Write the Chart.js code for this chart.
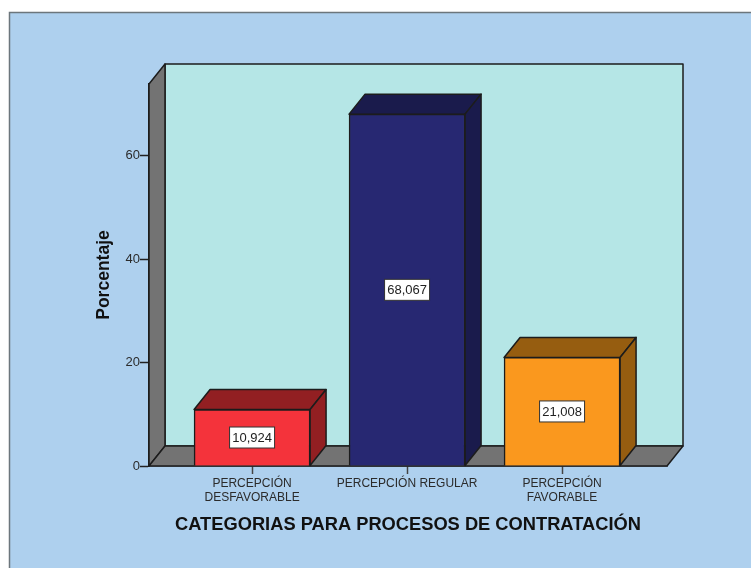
<!DOCTYPE html>
<html>
<head>
<meta charset="utf-8">
<script src="https://cdn.jsdelivr.net/npm/chart.js@4"></script>
<style>
  html, body { margin: 0; padding: 0; background: #fff; overflow: hidden; }
  canvas { display: block; }
</style>
</head>
<body>
<canvas id="grafico" width="751" height="568"></canvas>
<script>
const categorias = [["PERCEPCIÓN", "DESFAVORABLE"], "PERCEPCIÓN REGULAR", ["PERCEPCIÓN", "FAVORABLE"]];
const porcentajes = [10.924, 68.067, 21.008];
const etiquetas = ["10,924", "68,067", "21,008"];
const marcasY = [0, 20, 40, 60];

const coloresFrente = ["#F4333B", "#272872", "#FA981E"];
const coloresLado = ["#921F22", "#1A1B4C", "#965D10"];

const fuente = "'Liberation Sans', Arial, sans-serif";
const linea = "#1c1c1c";
const fondoX = 16;
const fondoY = 20;

function cara(ctx, puntos, relleno) {
    ctx.beginPath();
    puntos.forEach((p, i) => (i ? ctx.lineTo(p[0], p[1]) : ctx.moveTo(p[0], p[1])));
    ctx.closePath();
    ctx.fillStyle = relleno;
    ctx.fill();
    ctx.stroke();
}

const efecto3d = {
    id: "efecto3d",
    beforeDraw(chart) {
        // fondo del grafico con su marco
        const ctx = chart.ctx;
        ctx.save();
        ctx.fillStyle = "#AED0EE";
        ctx.fillRect(9.5, 12.5, 760, 570);
        ctx.strokeStyle = "#6C767C";
        ctx.lineWidth = 1.5;
        ctx.strokeRect(9.5, 12.5, 760, 570);
        ctx.restore();
    },
    beforeDatasetsDraw(chart) {
        const { ctx, chartArea: a } = chart;
        ctx.save();
        ctx.strokeStyle = linea;
        ctx.lineWidth = 1.5;
        ctx.lineJoin = "round";

        // paredes y suelo
        cara(ctx, [[a.left + fondoX, a.top - fondoY], [a.right + fondoX, a.top - fondoY], [a.right + fondoX, a.bottom - fondoY], [a.left + fondoX, a.bottom - fondoY]], "#B5E6E6");
        cara(ctx, [[a.left, a.top], [a.left + fondoX, a.top - fondoY], [a.left + fondoX, a.bottom - fondoY], [a.left, a.bottom]], "#737373");
        cara(ctx, [[a.left, a.bottom], [a.left + fondoX, a.bottom - fondoY], [a.right + fondoX, a.bottom - fondoY], [a.right, a.bottom]], "#737373");

        // techo y lado de cada barra
        chart.getDatasetMeta(0).data.forEach((barra, i) => {
            const izq = barra.x - barra.width / 2;
            const der = barra.x + barra.width / 2;
            cara(ctx, [[izq, barra.y], [izq + fondoX, barra.y - fondoY], [der + fondoX, barra.y - fondoY], [der, barra.y]], coloresLado[i]);
            cara(ctx, [[der, barra.y], [der + fondoX, barra.y - fondoY], [der + fondoX, barra.base - fondoY], [der, barra.base]], coloresLado[i]);
        });
        ctx.restore();
    },
    afterDatasetsDraw(chart) {
        // cajas con el valor de cada barra
        const ctx = chart.ctx;
        ctx.save();
        ctx.font = "13px " + fuente;
        ctx.textAlign = "center";
        ctx.textBaseline = "middle";
        chart.getDatasetMeta(0).data.forEach((barra, i) => {
            const centro = (barra.y + barra.base) / 2;
            ctx.fillStyle = "#fff";
            ctx.strokeStyle = "#333";
            ctx.lineWidth = 1;
            ctx.fillRect(barra.x - 22.5, centro - 10.5, 45, 21);
            ctx.strokeRect(barra.x - 22.5, centro - 10.5, 45, 21);
            ctx.fillStyle = "#222";
            ctx.fillText(etiquetas[i], barra.x, centro + 0.5);
        });
        ctx.restore();
    },
};

new Chart(document.getElementById("grafico").getContext("2d"), {
    type: "bar",
    data: {
        datasets: [
            {
                data: porcentajes.map((v, i) => ({ x: i, y: v })),
                backgroundColor: coloresFrente,
                borderColor: linea,
                borderWidth: 1.5,
                barThickness: 116,
            },
        ],
    },
    options: {
        responsive: false,
        animation: false,
        events: [],
        layout: { padding: { left: 94, right: 84, top: 84, bottom: 32 } },
        plugins: { legend: { display: false }, tooltip: { enabled: false } },
        scales: {
            x: {
                type: "linear",
                offset: false,
                min: -0.665,
                max: 2.677,
                afterBuildTicks: (eje) => {
                    eje.ticks = categorias.map((c, i) => ({ value: i }));
                },
                afterFit: (eje) => {
                    eje.height = 70;
                },
                grid: { offset: false, drawOnChartArea: false, tickLength: 8, tickColor: "#444", tickWidth: 1.5 },
                border: { color: linea, width: 1.5 },
                ticks: {
                    autoSkip: false,
                    maxRotation: 0,
                    padding: 3,
                    color: "#2b2b2b",
                    font: { family: fuente, size: 12, lineHeight: 1.17 },
                    callback: (v) => categorias[v],
                },
                title: {
                    display: true,
                    text: "CATEGORIAS PARA PROCESOS DE CONTRATACIÓN",
                    color: "#111",
                    font: { family: fuente, size: 18.3, weight: "bold" },
                    padding: { top: 0, bottom: 0 },
                },
            },
            y: {
                min: 0,
                max: 73.9,
                afterBuildTicks: (eje) => {
                    eje.ticks = marcasY.map((v) => ({ value: v }));
                },
                afterFit: (eje) => {
                    eje.width = 55;
                },
                grid: { drawOnChartArea: false, tickLength: 9, tickColor: "#222", tickWidth: 1.5 },
                border: { color: linea, width: 1.5 },
                ticks: {
                    padding: 0,
                    color: "#2b2b2b",
                    font: { family: fuente, size: 13 },
                },
                title: {
                    display: true,
                    text: "Porcentaje",
                    color: "#111",
                    font: { family: fuente, size: 17.5, weight: "bold" },
                    padding: { top: 0, bottom: 0 },
                },
            },
        },
    },
    plugins: [efecto3d],
});
</script>
</body>
</html>
